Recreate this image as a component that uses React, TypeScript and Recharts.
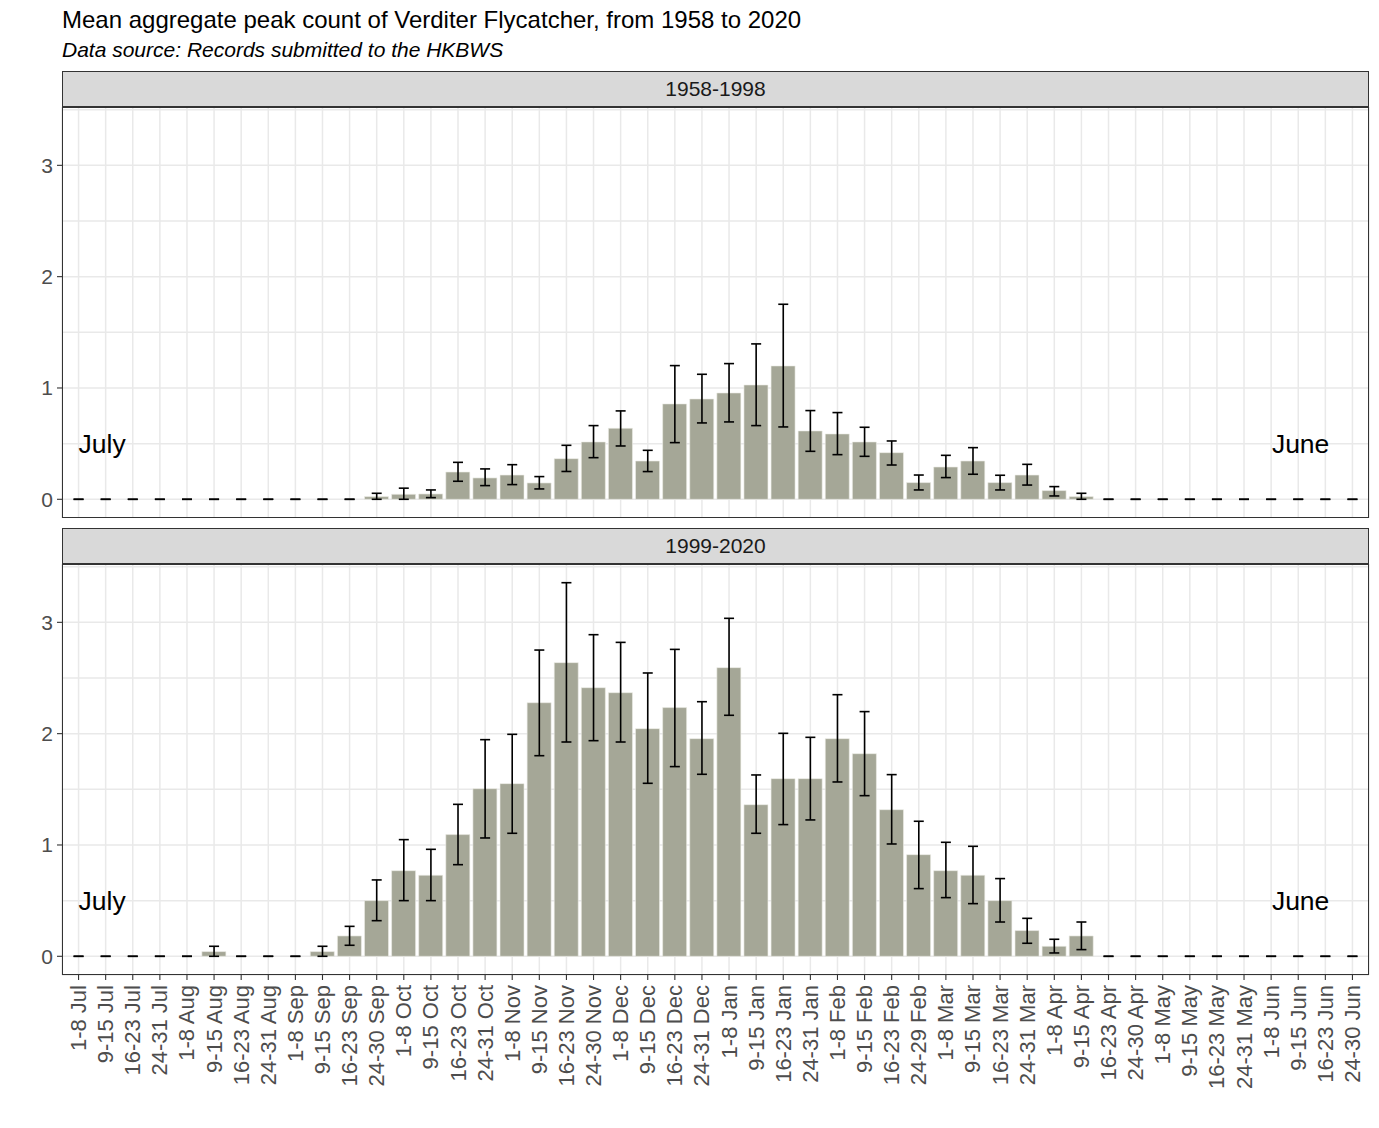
import React from 'react';
import { ComposedChart, Bar, Scatter, XAxis, YAxis, CartesianGrid, ErrorBar, ReferenceDot } from 'recharts';

const FONT = "'Liberation Sans', Arial, Helvetica, sans-serif";

const categories = [
  '1-8 Jul', '9-15 Jul', '16-23 Jul', '24-31 Jul',
  '1-8 Aug', '9-15 Aug', '16-23 Aug', '24-31 Aug',
  '1-8 Sep', '9-15 Sep', '16-23 Sep', '24-30 Sep',
  '1-8 Oct', '9-15 Oct', '16-23 Oct', '24-31 Oct',
  '1-8 Nov', '9-15 Nov', '16-23 Nov', '24-30 Nov',
  '1-8 Dec', '9-15 Dec', '16-23 Dec', '24-31 Dec',
  '1-8 Jan', '9-15 Jan', '16-23 Jan', '24-31 Jan',
  '1-8 Feb', '9-15 Feb', '16-23 Feb', '24-29 Feb',
  '1-8 Mar', '9-15 Mar', '16-23 Mar', '24-31 Mar',
  '1-8 Apr', '9-15 Apr', '16-23 Apr', '24-30 Apr',
  '1-8 May', '9-15 May', '16-23 May', '24-31 May',
  '1-8 Jun', '9-15 Jun', '16-23 Jun', '24-30 Jun',
];

// 1958-1998 panel
const earlyMean = [
  0, 0, 0, 0, 0, 0, 0, 0, 0, 0, 0, 0.024,
  0.045, 0.048, 0.245, 0.192, 0.218, 0.147, 0.365, 0.515,
  0.638, 0.344, 0.857, 0.901, 0.955, 1.027, 1.198, 0.614,
  0.587, 0.515, 0.419, 0.15, 0.29, 0.344, 0.15, 0.218,
  0.078, 0.024, 0, 0, 0, 0, 0, 0, 0, 0, 0, 0,
];
const earlyLow = [
  0, 0, 0, 0, 0, 0, 0, 0, 0, 0, 0, 0.0,
  0.0, 0.015, 0.162, 0.123, 0.132, 0.093, 0.25, 0.374,
  0.479, 0.249, 0.509, 0.686, 0.695, 0.662, 0.65, 0.431,
  0.401, 0.386, 0.308, 0.084, 0.195, 0.225, 0.084, 0.128,
  0.03, 0.0, 0, 0, 0, 0, 0, 0, 0, 0, 0, 0,
];
const earlyHigh = [
  0, 0, 0, 0, 0, 0, 0, 0, 0, 0, 0, 0.054,
  0.1, 0.084, 0.332, 0.273, 0.311, 0.204, 0.485, 0.662,
  0.794, 0.44, 1.201, 1.123, 1.219, 1.396, 1.752, 0.797,
  0.779, 0.647, 0.524, 0.218, 0.395, 0.464, 0.216, 0.314,
  0.114, 0.054, 0, 0, 0, 0, 0, 0, 0, 0, 0, 0,
];

// 1999-2020 panel
const lateMean = [
  0, 0, 0, 0, 0, 0.042, 0, 0, 0, 0.042, 0.183, 0.5,
  0.769, 0.728, 1.093, 1.506, 1.551, 2.278, 2.638, 2.413,
  2.368, 2.045, 2.234, 1.955, 2.593, 1.362, 1.596, 1.596,
  1.955, 1.82, 1.317, 0.913, 0.769, 0.728, 0.5, 0.231,
  0.09, 0.183, 0, 0, 0, 0, 0, 0, 0, 0, 0, 0,
];
const lateLow = [
  0, 0, 0, 0, 0, 0, 0, 0, 0, 0, 0.099, 0.32,
  0.5, 0.5, 0.823, 1.063, 1.105, 1.802, 1.925, 1.937,
  1.925, 1.554, 1.704, 1.635, 2.165, 1.105, 1.183, 1.225,
  1.566, 1.443, 1.009, 0.608, 0.527, 0.473, 0.308, 0.117,
  0.03, 0.06, 0, 0, 0, 0, 0, 0, 0, 0, 0, 0,
];
const lateHigh = [
  0, 0, 0, 0, 0, 0.09, 0, 0, 0, 0.09, 0.269, 0.686,
  1.048, 0.961, 1.365, 1.946, 1.994, 2.751, 3.356, 2.889,
  2.82, 2.545, 2.757, 2.287, 3.036, 1.629, 2.003, 1.967,
  2.35, 2.198, 1.632, 1.213, 1.024, 0.988, 0.698, 0.341,
  0.153, 0.308, 0, 0, 0, 0, 0, 0, 0, 0, 0, 0,
];

const gridTicks = [0, 0.5, 1, 1.5, 2, 2.5, 3, 3.5];
const yDomain = [-0.168, 3.524];
const panelLabels = ['1958-1998', '1999-2020'];
const startLabel = 'July';
const endLabel = 'June';

function buildRows(mean: number[], low: number[], high: number[]) {
  return categories.map((cat, i) => ({
    cat,
    mean: mean[i],
    err: [Math.max(0, mean[i] - low[i]), Math.max(0, high[i] - mean[i])],
  }));
}

const earlyRows = buildRows(earlyMean, earlyLow, earlyHigh);
const lateRows = buildRows(lateMean, lateLow, lateHigh);

const YTick = (props: any) => {
  const { x, y, payload } = props;
  if (!Number.isInteger(payload.value)) return <g />;
  return (
    <g>
      <line x1={x - 5} x2={x} y1={y} y2={y} stroke="#333333" strokeWidth={1.1} />
      <text x={x - 9} y={y} textAnchor="end" dominantBaseline="central" fontSize={21} fill="#4D4D4D" fontFamily={FONT}>
        {payload.value}
      </text>
    </g>
  );
};

const XTick = (props: any) => {
  const { x, y, payload } = props;
  return (
    <g>
      <line x1={x} x2={x} y1={y} y2={y + 5} stroke="#333333" strokeWidth={1.1} />
      <text
        transform={`translate(${x},${y + 10}) rotate(-90)`}
        textAnchor="end"
        dominantBaseline="central"
        fontSize={22}
        fill="#4D4D4D"
        fontFamily={FONT}
      >
        {payload.value}
      </text>
    </g>
  );
};

const EmptyTick = () => <g />;
const NoShape = () => <g />;

const annot = (text: string, anchor: string, dx: number) => (props: any) => {
  const vb = props.viewBox || {};
  const x = (vb.x || 0) + (vb.width || 0) / 2 + dx;
  const y = (vb.y || 0) + (vb.height || 0) / 2;
  return (
    <text x={x} y={y} textAnchor={anchor} dominantBaseline="central" fontSize={26.5} fill="#000000" fontFamily={FONT}>
      {text}
    </text>
  );
};

const PLOT_LEFT = 62;
const PLOT_WIDTH = 1307;
const PLOT_HEIGHT = 411;

function Panel({ rows, top, showX }: { rows: any[]; top: number; showX: boolean }) {
  const xHeight = showX ? 125 : 0;
  return (
    <div style={{ position: 'absolute', left: 0, top, width: 1379, height: PLOT_HEIGHT + xHeight }}>
      <ComposedChart
        width={1379}
        height={PLOT_HEIGHT + xHeight}
        data={rows}
        margin={{ top: 0, right: 1379 - PLOT_LEFT - PLOT_WIDTH, bottom: 0, left: 0 }}
        barCategoryGap="5%"
      >
        <CartesianGrid stroke="#E9E9E9" strokeWidth={1.5} />
        <XAxis
          dataKey="cat"
          type="category"
          interval={0}
          padding={{ left: 3, right: 3 }}
          height={xHeight}
          axisLine={false}
          tickLine={false}
          tickSize={0}
          tickMargin={0}
          tick={showX ? <XTick /> : <EmptyTick />}
        />
        <YAxis
          type="number"
          domain={yDomain}
          ticks={gridTicks}
          allowDataOverflow
          width={PLOT_LEFT}
          axisLine={false}
          tickLine={false}
          tickSize={0}
          tickMargin={0}
          tick={<YTick />}
        />
        <Bar dataKey="mean" fill="#A5A797" stroke="#ECECE6" strokeWidth={0.6} isAnimationActive={false} />
        <Scatter dataKey="mean" shape={<NoShape />} isAnimationActive={false} legendType="none">
          <ErrorBar dataKey="err" width={5} stroke="#000000" strokeWidth={1.6} direction="y" isAnimationActive={false} />
        </Scatter>
        <ReferenceDot x={categories[0]} y={0.5} r={0} fill="none" stroke="none" label={annot(startLabel, 'start', 0)} />
        <ReferenceDot x={categories[46]} y={0.5} r={0} fill="none" stroke="none" label={annot(endLabel, 'end', 4)} />
      </ComposedChart>
      <div
        style={{
          position: 'absolute',
          left: PLOT_LEFT,
          top: 0,
          width: PLOT_WIDTH,
          height: PLOT_HEIGHT,
          border: '1.2px solid #333333',
          boxSizing: 'border-box',
          pointerEvents: 'none',
        }}
      />
    </div>
  );
}

function Strip({ label, top }: { label: string; top: number }) {
  return (
    <div
      style={{
        position: 'absolute',
        left: PLOT_LEFT,
        top,
        width: PLOT_WIDTH,
        height: 36,
        background: '#D9D9D9',
        border: '1.2px solid #333333',
        boxSizing: 'border-box',
        display: 'flex',
        alignItems: 'center',
        justifyContent: 'center',
        fontFamily: FONT,
        fontSize: 21,
        color: '#1A1A1A',
      }}
    >
      {label}
    </div>
  );
}

export default function App() {
  return (
    <div style={{ position: 'absolute', left: 0, top: 0, width: 1379, height: 1128, background: '#FFFFFF', overflow: 'hidden' }}>
      <svg width={1379} height={70} style={{ position: 'absolute', left: 0, top: 0 }}>
        <text x={62} y={28} fontSize={24} fill="#000000" fontFamily={FONT}>
          Mean aggregate peak count of Verditer Flycatcher, from 1958 to 2020
        </text>
        <text x={62} y={57} fontSize={21} fontStyle="italic" fill="#000000" fontFamily={FONT}>
          Data source: Records submitted to the HKBWS
        </text>
      </svg>
      <Strip label={panelLabels[0]} top={71} />
      <Panel rows={earlyRows} top={107} showX={false} />
      <Strip label={panelLabels[1]} top={528} />
      <Panel rows={lateRows} top={564} showX={true} />
    </div>
  );
}
